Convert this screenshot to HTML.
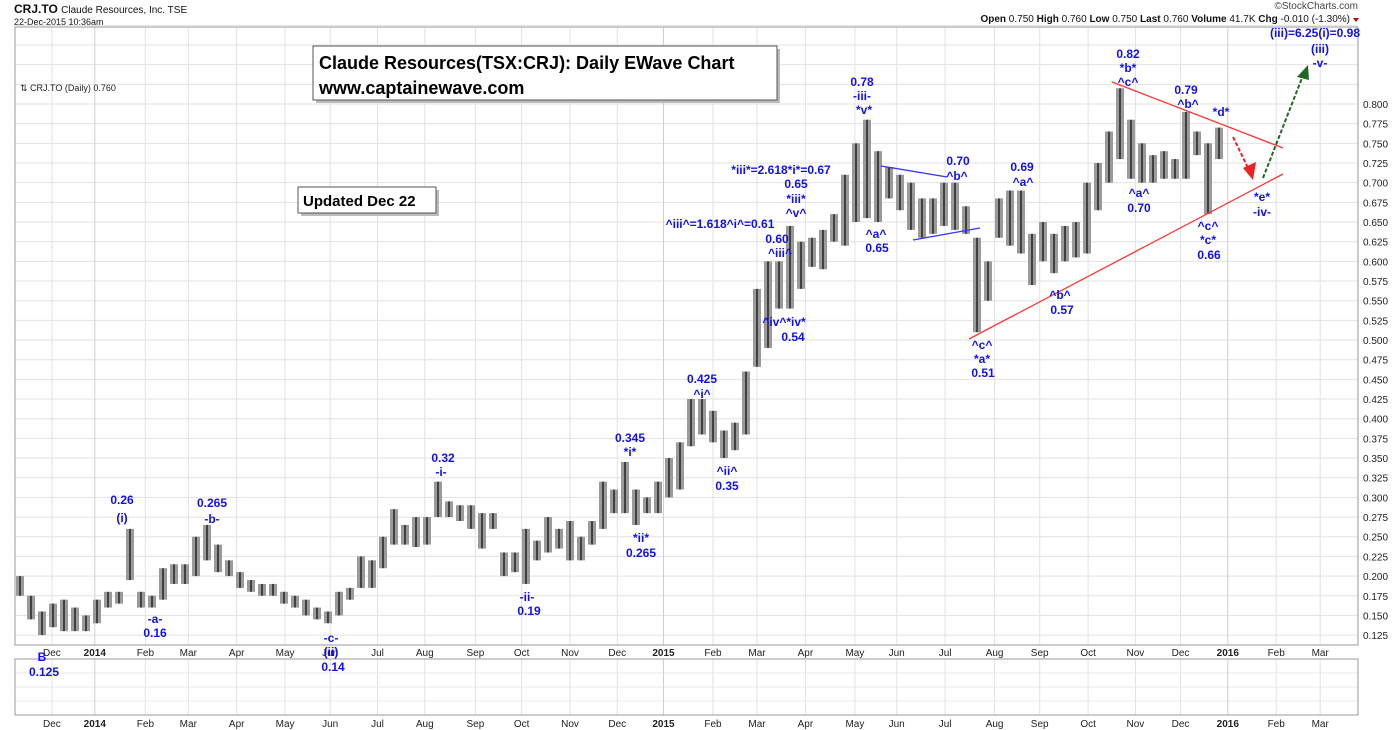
<!DOCTYPE html>
<html><head><meta charset="utf-8"><style>
html,body{margin:0;padding:0;background:#fff;width:1400px;height:730px;overflow:hidden}
svg{display:block;font-family:"Liberation Sans",Arial,sans-serif}
.ann{fill:#1010ee;font-weight:bold;font-size:12px;text-anchor:middle}
.ax{fill:#222;font-size:10px}
</style></head><body>
<svg id="chart" width="1400" height="730" viewBox="0 0 1400 730" xmlns="http://www.w3.org/2000/svg">
<text x="14" y="13" font-size="12" font-weight="bold" fill="#111">CRJ.TO <tspan font-size="10" font-weight="normal">Claude Resources, Inc. TSE</tspan></text>
<text x="14" y="25" font-size="9" fill="#111">22-Dec-2015 10:36am</text>
<text x="1358" y="9" font-size="10" fill="#444" text-anchor="end">©StockCharts.com</text>
<text x="1350" y="22" font-size="10" fill="#111" text-anchor="end"><tspan font-weight="bold">Open</tspan> 0.750  <tspan font-weight="bold">High</tspan> 0.760  <tspan font-weight="bold">Low</tspan> 0.750  <tspan font-weight="bold">Last</tspan> 0.760  <tspan font-weight="bold">Volume</tspan> 41.7K  <tspan font-weight="bold">Chg</tspan> -0.010 (-1.30%)</text>
<polygon points="1353,18 1359,18 1356,22" fill="#c00"/>
<g id="grid"></g>
<g id="bars"></g>
<g id="axes"></g>
<rect x="15" y="27" width="1343" height="618" fill="none" stroke="#999"/>
<rect x="15" y="659" width="1343" height="56" fill="none" stroke="#999"/>
<text x="20" y="91" font-size="9" fill="#222">⇅ CRJ.TO (Daily) 0.760</text>
<g>
<rect x="316" y="49" width="464" height="54" fill="#bbb"/>
<rect x="313" y="46" width="464" height="54" fill="#fff" stroke="#555"/>
<text x="319" y="69" font-size="18" font-weight="bold" fill="#000">Claude Resources(TSX:CRJ): Daily EWave Chart</text>
<text x="319" y="94" font-size="18" font-weight="bold" fill="#000">www.captainewave.com</text>
</g>
<g>
<rect x="301" y="190" width="138" height="26" fill="#bbb"/>
<rect x="298" y="187" width="138" height="26" fill="#fff" stroke="#555"/>
<text x="303" y="206" font-size="15" font-weight="bold" fill="#000">Updated Dec 22</text>
</g>
<g>
<line x1="1112" y1="82" x2="1283" y2="148" stroke="#f33" stroke-width="1.3"/>
<line x1="969" y1="339" x2="1283" y2="174" stroke="#f33" stroke-width="1.3"/>
<line x1="881" y1="166" x2="947" y2="177" stroke="#33f" stroke-width="1.3"/>
<line x1="913" y1="240" x2="980" y2="228" stroke="#33f" stroke-width="1.3"/>
<line x1="1233" y1="137" x2="1249" y2="170" stroke="#e22" stroke-width="2" stroke-dasharray="4,2"/>
<polygon points="1243,168 1256,162 1253,180" fill="#e22"/>
<line x1="1263" y1="178" x2="1302" y2="78" stroke="#262" stroke-width="2" stroke-dasharray="4,2"/>
<polygon points="1297,77 1309,80 1308,65" fill="#262"/>
</g>
<g id="annots">
<text class="ann" x="122" y="504">0.26</text><text class="ann" x="122" y="522" font-size="13">(i)</text>
<text class="ann" x="212" y="507">0.265</text><text class="ann" x="212" y="523">-b-</text>
<text class="ann" x="155" y="623">-a-</text><text class="ann" x="155" y="637">0.16</text>
<text class="ann" x="42" y="661" font-size="16">B</text><text class="ann" x="44" y="676">0.125</text>
<text class="ann" x="331" y="642">-c-</text><text class="ann" x="331" y="656">(ii)</text><text class="ann" x="333" y="671">0.14</text>
<text class="ann" x="443" y="462">0.32</text><text class="ann" x="441" y="476">-i-</text>
<text class="ann" x="527" y="601">-ii-</text><text class="ann" x="529" y="615">0.19</text>
<text class="ann" x="630" y="442">0.345</text><text class="ann" x="630" y="456">*i*</text>
<text class="ann" x="641" y="542">*ii*</text><text class="ann" x="641" y="557">0.265</text>
<text class="ann" x="702" y="383">0.425</text><text class="ann" x="702" y="398">^i^</text>
<text class="ann" x="727" y="475">^ii^</text><text class="ann" x="727" y="490">0.35</text>
<text class="ann" x="720" y="228" font-size="11">^iii^=1.618^i^=0.61</text>
<text class="ann" x="777" y="243">0.60</text><text class="ann" x="780" y="257">^iii^</text>
<text class="ann" x="781" y="174" font-size="11">*iii*=2.618*i*=0.67</text>
<text class="ann" x="796" y="188">0.65</text><text class="ann" x="796" y="203">*iii*</text><text class="ann" x="796" y="217">^v^</text>
<text class="ann" x="784" y="326">^iv^*iv*</text><text class="ann" x="793" y="341">0.54</text>
<text class="ann" x="862" y="86">0.78</text><text class="ann" x="862" y="100">-iii-</text><text class="ann" x="864" y="114">*v*</text>
<text class="ann" x="876" y="238">^a^</text><text class="ann" x="877" y="252">0.65</text>
<text class="ann" x="958" y="165">0.70</text><text class="ann" x="957" y="180">^b^</text>
<text class="ann" x="1022" y="171">0.69</text><text class="ann" x="1023" y="186">^a^</text>
<text class="ann" x="982" y="349">^c^</text><text class="ann" x="982" y="363">*a*</text><text class="ann" x="983" y="377">0.51</text>
<text class="ann" x="1060" y="299">^b^</text><text class="ann" x="1062" y="314">0.57</text>
<text class="ann" x="1128" y="58">0.82</text><text class="ann" x="1128" y="72">*b*</text><text class="ann" x="1128" y="86">^c^</text>
<text class="ann" x="1186" y="94">0.79</text><text class="ann" x="1188" y="108">^b^</text>
<text class="ann" x="1221" y="116">*d*</text>
<text class="ann" x="1139" y="197">^a^</text><text class="ann" x="1139" y="212">0.70</text>
<text class="ann" x="1208" y="230">^c^</text><text class="ann" x="1208" y="244">*c*</text><text class="ann" x="1209" y="259">0.66</text>
<text class="ann" x="1262" y="201">*e*</text><text class="ann" x="1262" y="216">-iv-</text>
<text class="ann" x="1315" y="37">(iii)=6.25(i)=0.98</text><text class="ann" x="1320" y="53">(iii)</text><text class="ann" x="1320" y="67">-v-</text>
</g>
</svg>
<script>
const weekHigh=[.20,.175,.155,.165,.17,.16,.15,.17,.18,.18,.26,.18,.175,.21,.215,.215,.25,.265,.24,.22,.205,.195,.19,.19,.18,.175,.17,.16,.155,.18,.185,.225,.22,.25,.285,.265,.275,.275,.32,.295,.29,.29,.28,.28,.23,.23,.26,.245,.275,.26,.27,.25,.27,.32,.31,.345,.31,.30,.32,.35,.37,.425,.425,.41,.385,.395,.46,.565,.60,.60,.645,.625,.63,.64,.66,.71,.75,.78,.74,.72,.71,.70,.68,.68,.70,.70,.67,.63,.60,.68,.69,.69,.635,.65,.635,.645,.65,.70,.725,.765,.82,.78,.75,.735,.74,.73,.79,.765,.75,.77];
const weekLow=[.175,.145,.125,.135,.13,.13,.13,.14,.16,.165,.195,.16,.16,.17,.19,.19,.20,.22,.205,.20,.185,.18,.175,.175,.165,.16,.15,.145,.14,.15,.17,.185,.185,.21,.24,.24,.237,.24,.275,.275,.27,.26,.235,.26,.20,.205,.19,.22,.23,.235,.22,.22,.24,.26,.28,.28,.265,.28,.28,.30,.31,.365,.38,.37,.35,.36,.38,.466,.49,.54,.54,.565,.593,.59,.625,.62,.65,.655,.65,.68,.665,.64,.63,.635,.645,.64,.635,.51,.55,.63,.62,.61,.57,.60,.585,.60,.605,.61,.665,.70,.73,.705,.70,.70,.705,.705,.705,.735,.66,.73];
const priceTicks=[0.800,0.775,0.750,0.725,0.700,0.675,0.650,0.625,0.600,0.575,0.550,0.525,0.500,0.475,0.450,0.425,0.400,0.375,0.350,0.325,0.300,0.275,0.250,0.225,0.200,0.175,0.150,0.125];
const monthLabels=["Dec","2014","Feb","Mar","Apr","May","Jun","Jul","Aug","Sep","Oct","Nov","Dec","2015","Feb","Mar","Apr","May","Jun","Jul","Aug","Sep","Oct","Nov","Dec","2016","Feb","Mar"];
const monthIndex=[2.9,6.8,11.4,15.3,19.7,24.1,28.2,32.5,36.8,41.4,45.6,50,54.3,58.5,63,67,71.4,75.9,79.7,84.1,88.6,92.7,97.1,101.4,105.5,109.8,114.2,118.2];
const NS='http://www.w3.org/2000/svg';
function yOf(p){return 104+(0.8-p)/0.025*19.67;}
function xOf(i){return 20+i*11;}
function mk(tag,attrs,parent){const e=document.createElementNS(NS,tag);for(const k in attrs)e.setAttribute(k,attrs[k]);parent.appendChild(e);return e;}
const grid=document.getElementById('grid'),bars=document.getElementById('bars'),axes=document.getElementById('axes');
for(let p=0.125;p<=0.9001;p+=0.025){
  const gl=mk('line',{x1:15,x2:1358,y1:yOf(p),y2:yOf(p),stroke:'#e2e2e2'},grid);
  
  
}
[673,687,701].forEach(y=>{const l=mk('line',{x1:15,x2:1358,y1:y,y2:y,stroke:'#e8e8e8'},grid);});
monthLabels.forEach((m,k)=>{
  const x=xOf(monthIndex[k]);
  const yr=/^\d{4}$/.test(m);
  const v=mk('line',{x1:x,x2:x,y1:27,y2:645,stroke:yr?'#cfcfcf':'#e2e2e2'},grid);
  
  
  const v2=mk('line',{x1:x,x2:x,y1:659,y2:715,stroke:yr?'#cfcfcf':'#e2e2e2'},grid);
  
  
  [656,727].forEach(ty=>{
    const t=mk('text',{x:x,y:ty,'text-anchor':'middle',class:'ax','font-weight':yr?'bold':'normal'},axes);
    t.textContent=m;
    
    
  });
});
priceTicks.forEach(p=>{
  const t=mk('text',{x:1363,y:yOf(p)+4,class:'ax'},axes);
  t.textContent=p.toFixed(3);
  
  
});
weekHigh.forEach((h,i)=>{
  const l=weekLow[i];
  const r=mk('rect',{x:xOf(i)-4,y:yOf(h),width:8,height:Math.max(2,yOf(l)-yOf(h)),fill:'#9a9a9a'},bars);
  
  
  const c=mk('line',{x1:xOf(i),x2:xOf(i),y1:yOf(h),y2:yOf(l),stroke:'#111','stroke-width':1.3},bars);
  
  
});
</script>
</body></html>
